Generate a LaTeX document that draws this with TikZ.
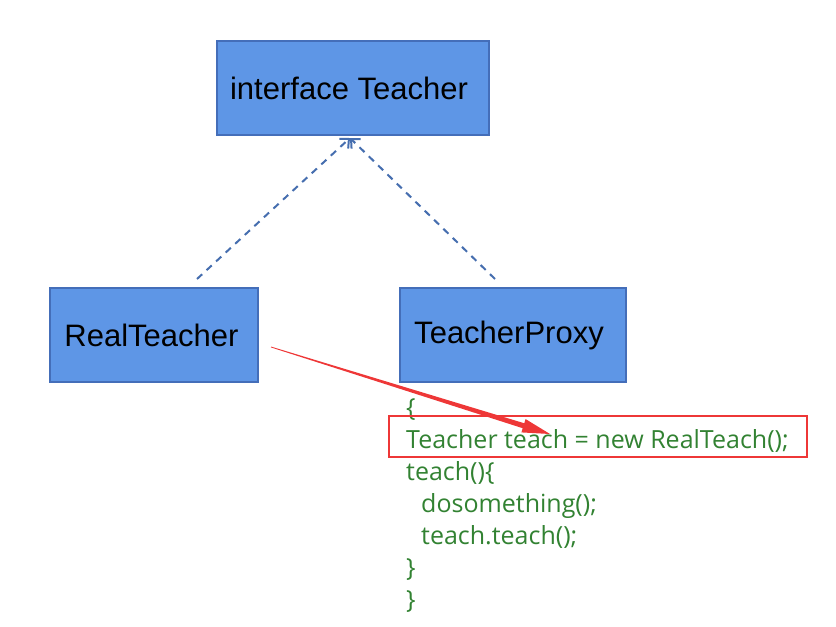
\documentclass[tikz,border=0pt]{standalone}
\usepackage{fontspec}
\setmainfont{Liberation Sans}
\newfontfamily\codefont{Open Sans}
\usetikzlibrary{arrows.meta,calc}
\definecolor{boxfill}{RGB}{94,150,230}
\definecolor{boxline}{RGB}{68,110,185}
\definecolor{dashc}{RGB}{70,110,175}
\definecolor{codec}{RGB}{50,130,50}
\definecolor{redc}{RGB}{238,55,55}
\tikzset{
  classbox/.style={draw=boxline,line width=2pt,fill=boxfill,inner sep=0pt,font=\fontsize{31}{34}\selectfont},
  realizes/.style={draw=dashc,line width=2pt,dash pattern=on 7pt off 6pt,-{Straight Barb[length=7pt,width=13pt,line width=2pt]}},
  codeline/.style={anchor=base west,inner sep=0pt,text=codec,font=\codefont\fontsize{25}{28}\selectfont},
  highlight/.style={draw=redc,line width=2.5pt,inner sep=0pt}
}
\begin{document}
\begin{tikzpicture}[x=1pt,y=-1pt]
\useasboundingbox (0,0) rectangle (836,627);
\node[classbox,minimum width=272pt,minimum height=94pt] (ti) at (353,88) {interface Teacher\kern8pt};
\node[classbox,minimum width=208pt,minimum height=94pt] (rt) at (154,335) {RealTeacher\kern5pt};
\node[classbox,minimum width=226pt,minimum height=94pt] (tp) at (513,335) {TeacherProxy\kern8pt};
\coordinate (tip) at ($(ti.south)+(-3,2)$);
\coordinate (ls) at ($(rt.north)+(43,-8)$);
\coordinate (rs) at ($(tp.north)+(-18,-8)$);
\draw[realizes] (ls) -- (tip);
\draw[realizes] (rs) -- (tip);
\node[codeline] (c1) at (406,416) {\{};
\node[codeline] (c2) at (406,448) {Teacher teach = new RealTeach();};
\node[codeline] (c3) at (406,480) {teach()\{};
\node[codeline] (c4) at (421,512) {dosomething();};
\node[codeline] (c5) at (421,544) {teach.teach();};
\node[codeline] (c6) at (406,576) {\}};
\node[codeline] (c7) at (406,608) {\}};
\node[highlight,minimum width=418pt,minimum height=41pt] (hl) at (598,436.5) {};
\coordinate (as) at ($(rt.east)+(12,12)$);
\coordinate (at) at (550,434);
\coordinate (se) at ($(as)!0.905!(at)$);
\fill[redc] ($(as)!0.4pt!90:(at)$) -- ($(se)!2.6pt!90:(at)$) -- ($(se)!7pt!90:(at)$) -- (at)
  -- ($(se)!7pt!-90:(at)$) -- ($(se)!2.6pt!-90:(at)$) -- ($(as)!0.4pt!-90:(at)$) -- cycle;
\end{tikzpicture}
\end{document}
